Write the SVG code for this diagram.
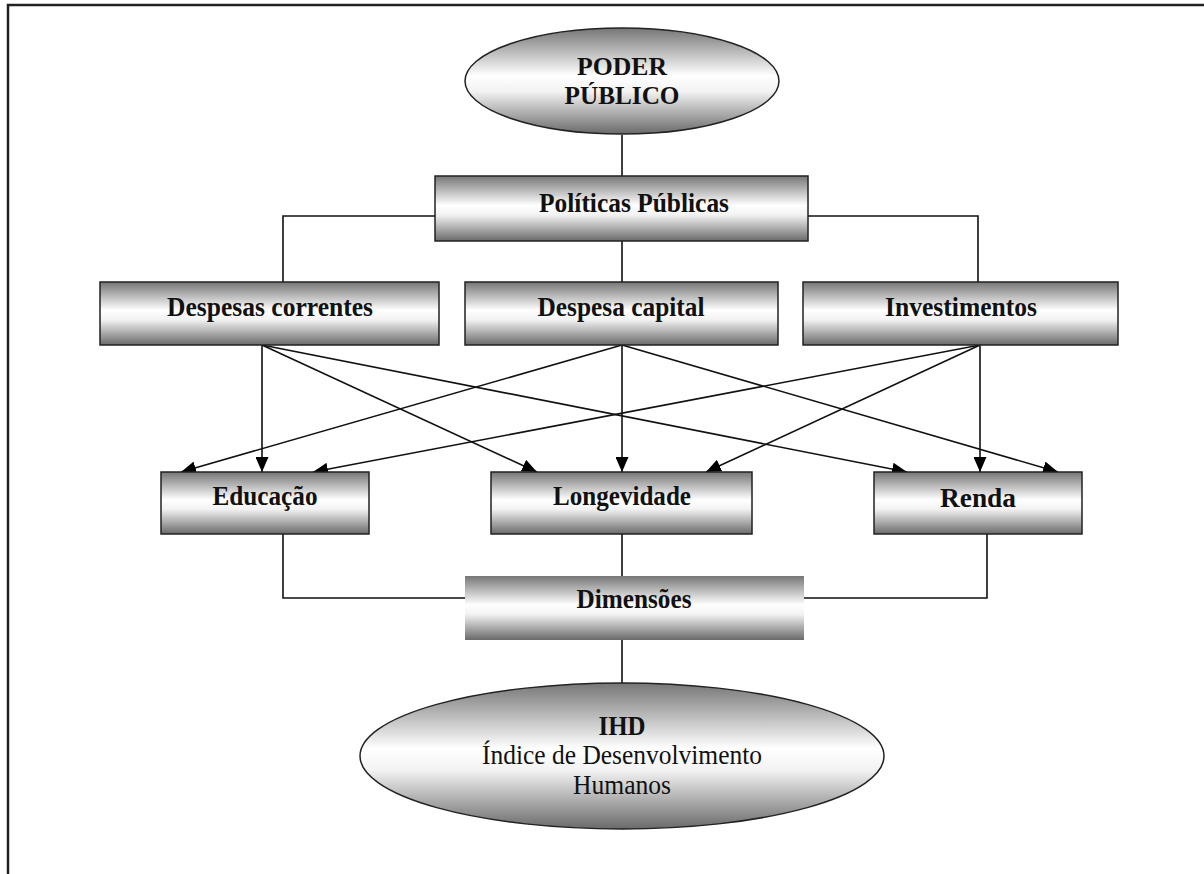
<svg xmlns="http://www.w3.org/2000/svg" width="1204" height="874" viewBox="0 0 1204 874">
<defs>
<linearGradient id="g" x1="0" y1="0" x2="0" y2="1">
<stop offset="0" stop-color="#767676"/>
<stop offset="0.45" stop-color="#ffffff"/>
<stop offset="0.6" stop-color="#f2f2f2"/>
<stop offset="1" stop-color="#6a6a6a"/>
</linearGradient>
<marker id="arr" markerWidth="15" markerHeight="13" refX="15" refY="6.5" orient="auto" markerUnits="userSpaceOnUse">
<path d="M0,0 L15,6.5 L0,13 Z" fill="#000"/>
</marker>
</defs>
<style>
.box{fill:url(#g);stroke:#222;stroke-width:1.5}
.nobox{fill:url(#g);stroke:none}
.lbl{font-family:"Liberation Serif","Times New Roman",serif;font-weight:bold;font-size:27px;fill:#111;text-anchor:middle}
.top{font-size:25px}
.reg{font-family:"Liberation Serif","Times New Roman",serif;font-size:27px;fill:#111;text-anchor:middle}
.ln{fill:none;stroke:#111;stroke-width:1.6}
.ar{fill:none;stroke:#111;stroke-width:1.6;marker-end:url(#arr)}
</style>
<rect width="1204" height="874" fill="#fff"/>
<path d="M8,874 V5 H1204" fill="none" stroke="#222" stroke-width="2.5"/>
<g id="connectors">
<line class="ln" x1="622" y1="135" x2="622" y2="176"/>
<path class="ln" d="M435,216 H283 V282"/>
<path class="ln" d="M808,216 H978 V282"/>
<line class="ln" x1="622" y1="241" x2="622" y2="282"/>
<line class="ar" x1="262" y1="345" x2="262" y2="472"/>
<line class="ar" x1="262" y1="345" x2="537" y2="472"/>
<line class="ar" x1="262" y1="345" x2="907" y2="472"/>
<line class="ar" x1="622" y1="345" x2="181" y2="472"/>
<line class="ar" x1="622" y1="345" x2="622" y2="472"/>
<line class="ar" x1="622" y1="345" x2="1058" y2="472"/>
<line class="ar" x1="980" y1="345" x2="313" y2="472"/>
<line class="ar" x1="980" y1="345" x2="706" y2="472"/>
<line class="ar" x1="980" y1="345" x2="980" y2="472"/>
<path class="ln" d="M283,534 V598 H465"/>
<path class="ln" d="M987,534 V598 H804"/>
<line class="ln" x1="622" y1="534" x2="622" y2="576"/>
<line class="ln" x1="622" y1="640" x2="622" y2="683"/>
</g>
<g id="poder-publico">
<ellipse class="box" cx="622" cy="81" rx="157" ry="53"/>
<text class="lbl top" x="622" y="75" textLength="90" lengthAdjust="spacingAndGlyphs">PODER</text>
<text class="lbl top" x="622" y="104" textLength="115" lengthAdjust="spacingAndGlyphs">PÚBLICO</text>
</g>
<g id="politicas-publicas">
<rect class="box" x="435" y="176" width="373" height="65"/>
<text class="lbl" x="634" y="212" textLength="190" lengthAdjust="spacingAndGlyphs">Políticas Públicas</text>
</g>
<g id="despesas-correntes">
<rect class="box" x="100" y="282" width="339" height="63"/>
<text class="lbl" x="270" y="316" textLength="206" lengthAdjust="spacingAndGlyphs">Despesas correntes</text>
</g>
<g id="despesa-capital">
<rect class="box" x="465" y="282" width="313" height="63"/>
<text class="lbl" x="621" y="316" textLength="167" lengthAdjust="spacingAndGlyphs">Despesa capital</text>
</g>
<g id="investimentos">
<rect class="box" x="803" y="282" width="315" height="63"/>
<text class="lbl" x="961" y="316" textLength="152" lengthAdjust="spacingAndGlyphs">Investimentos</text>
</g>
<g id="educacao">
<rect class="box" x="161" y="472" width="208" height="62"/>
<text class="lbl" x="265" y="505" textLength="105" lengthAdjust="spacingAndGlyphs">Educação</text>
</g>
<g id="longevidade">
<rect class="box" x="491" y="472" width="261" height="62"/>
<text class="lbl" x="622" y="505" textLength="138" lengthAdjust="spacingAndGlyphs">Longevidade</text>
</g>
<g id="renda">
<rect class="box" x="874" y="472" width="208" height="62"/>
<text class="lbl" x="978" y="507" textLength="76" lengthAdjust="spacingAndGlyphs">Renda</text>
</g>
<g id="dimensoes">
<rect class="nobox" x="465" y="576" width="339" height="64"/>
<text class="lbl" x="634" y="608" textLength="115" lengthAdjust="spacingAndGlyphs">Dimensões</text>
</g>
<g id="ihd">
<ellipse class="box" cx="622" cy="756" rx="262" ry="73"/>
<text class="lbl" x="622" y="735" textLength="47" lengthAdjust="spacingAndGlyphs">IHD</text>
<text class="reg" x="622" y="764" textLength="280" lengthAdjust="spacingAndGlyphs">Índice de Desenvolvimento</text>
<text class="reg" x="622" y="794" textLength="98" lengthAdjust="spacingAndGlyphs">Humanos</text>
</g>
</svg>
